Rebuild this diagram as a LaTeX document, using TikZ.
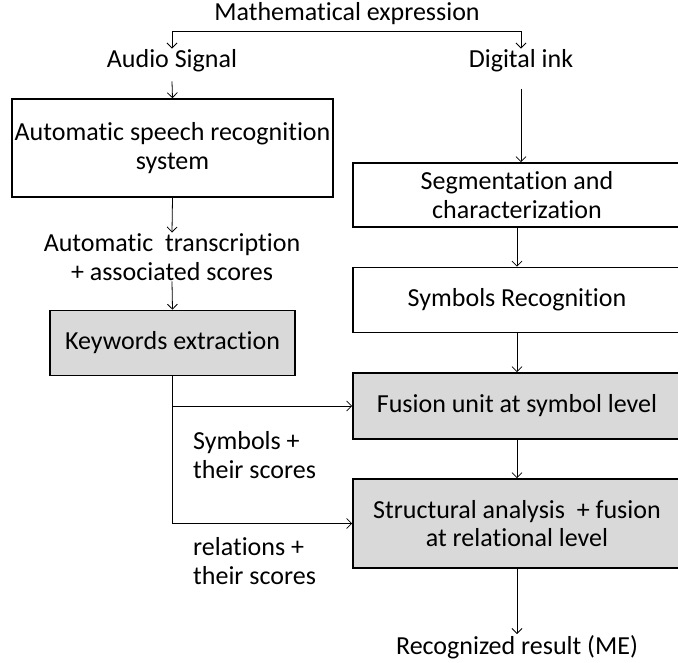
\documentclass[tikz,border=0pt]{standalone}
\usepackage{fontspec}
\setmainfont{Carlito}[RawFeature=-liga]
\usetikzlibrary{arrows.meta}

\begin{document}
\begin{tikzpicture}[x=1pt,y=1pt,
    font=\fontsize{26}{28.5}\selectfont,
    block_white/.style ={rectangle, draw=black, line width=1.6pt, fill=white,
      align=center, inner sep=0pt},
    block_gray/.style ={rectangle, draw=black, line width=1.6pt, fill=black!15,
      align=center, inner sep=0pt},
    block_noborder/.style ={rectangle, draw=none, align=center, inner sep=1pt},
    block_left/.style ={rectangle, draw=none, align=left, inner sep=0pt},
    line/.style ={draw, line width=0.8pt, -{Straight Barb[length=5pt,width=10pt]}}]
    \useasboundingbox (0,0) rectangle (678,-663);
    % left branch: speech
    \node [block_noborder] (title) at (347,-14) {Mathematical expression};
    \node [block_noborder] (audio) at (172,-61) {Audio Signal};
    \node [block_noborder] (ink) at (521,-61) {Digital ink};
    \node [block_white, minimum width=321pt, minimum height=98pt] (asr) at (172.5,-148)
      {Automatic speech recognition\\system};
    \node [block_noborder] (trans) at (172,-257) {Automatic\ \ transcription\\+ associated scores};
    \node [block_gray, minimum width=245pt, minimum height=65pt] (keyw) at (172.5,-343)
      {Keywords extraction};
    % right branch: ink
    \node [block_white, minimum width=328pt, minimum height=64pt] (seg) at (517,-195)
      {Segmentation and\\characterization};
    \node [block_white, minimum width=328pt, minimum height=65pt] (symrec) at (517,-300)
      {Symbols Recognition};
    \node [block_gray, minimum width=328pt, minimum height=66pt] (fusion) at (517,-406)
      {Fusion unit at symbol level};
    \node [block_gray, minimum width=328pt, minimum height=89pt] (struct) at (517,-523.5)
      {Structural analysis\ \ + fusion\\at relational level};
    \node [block_noborder] (result) at (517,-647) {Recognized result (ME)};
    \node [block_left, anchor=west] (symlab) at (193,-455) {Symbols +\\their scores};
    \node [block_left, anchor=west] (rellab) at (193,-561) {relations +\\their scores};
    \coordinate (split) at (347,-31);
    % connecting nodes with paths
    \begin{scope}[every path/.style=line]
      \path (split) -| (audio.north);
      \path (split) -| (ink.north);
      \path ([yshift=-8pt]audio.south) -- (asr.north);
      \path (asr.south) -- (trans.north);
      \path (trans.south) -- (keyw.north);
      \path ([yshift=-16pt]ink.south) -- (ink.south |- seg.north);
      \path (seg.south) -- (symrec.north);
      \path (symrec.south) -- (fusion.north);
      \path (fusion.south) -- (struct.north);
      \path (struct.south) -- (result.north);
      \path (keyw.south |- fusion.west) -- (fusion.west);
      \path (keyw.south |- struct.west) -- (struct.west);
    \end{scope}
    \draw [line width=0.8pt] (split -| audio.north) -- (split -| ink.north);
    \draw [line width=0.8pt] (keyw.south) -- (keyw.south |- struct.west);
  \end{tikzpicture}
\end{document}
